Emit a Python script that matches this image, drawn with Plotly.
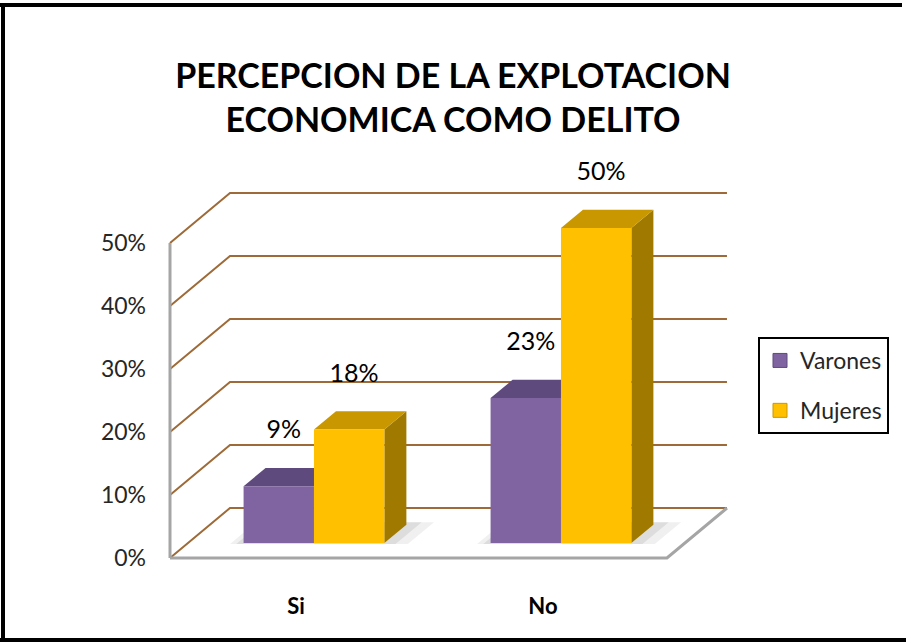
import plotly.graph_objects as go

# ---- chart data -------------------------------------------------------
categories = ["Si", "No"]
series_names = ["Varones", "Mujeres"]
varones = [9, 23]
mujeres = [18, 50]
y_ticks = [0, 10, 20, 30, 40, 50]
y_tick_labels = ["0%", "10%", "20%", "30%", "40%", "50%"]

# ---- oblique 3-D projection settings (data units) ---------------------
W, H = 906, 642
PX_PER_CAT = 247.0          # pixels per category step
PX_PER_PCT = 6.3            # pixels per percentage point
X_LEFT, X_RIGHT = -0.51, 1.502
DEPTH_X = 60 / PX_PER_CAT   # horizontal shift of the back wall
DEPTH_Y = 50 / PX_PER_PCT   # vertical shift of the back wall
BAR_W = 0.285
Z0, Z1 = 0.30, 0.667        # bar front / back depth (fraction of floor depth)
LABEL_GAP = 8.6

x_lo = X_LEFT - 170 / PX_PER_CAT
x_hi = x_lo + W / PX_PER_CAT
y_lo = -(H - 558) / PX_PER_PCT
y_hi = y_lo + H / PX_PER_PCT

GRID = "rgb(158,106,56)"
FLOOR = "rgb(165,165,165)"
COLORS = {
    "Varones": {"front": "#8064A2", "top": "#5F4A7D", "side": "#4E3D68"},
    "Mujeres": {"front": "#FFC000", "top": "#C99800", "side": "#A07A00"},
}
FONT = "Lato, Roboto, sans-serif"

fig = go.Figure()

# back wall gridlines with their slanted side-wall segments
gx, gy = [], []
for t in y_ticks:
    gx += [X_LEFT, X_LEFT + DEPTH_X, X_RIGHT + DEPTH_X, None]
    gy += [t, t + DEPTH_Y, t + DEPTH_Y, None]
fig.add_trace(go.Scatter(x=gx, y=gy, mode="lines", line=dict(color=GRID, width=2),
                         hoverinfo="skip", showlegend=False))

# floor edges and the front vertical axis line
fig.add_trace(go.Scatter(
    x=[X_LEFT, X_LEFT, None, X_LEFT, X_RIGHT, X_RIGHT + DEPTH_X],
    y=[y_ticks[-1], 0, None, 0, 0, DEPTH_Y],
    mode="lines", line=dict(color=FLOOR, width=3), hoverinfo="skip", showlegend=False))

# soft floor shadow beneath each pair of bars
for grow, alpha in [(0.05, 0.06), (0.025, 0.08)]:
    sx, sy = [], []
    for i in range(len(categories)):
        x0 = i - BAR_W - grow
        x1 = i + BAR_W + grow * 2
        za, zb = Z0 - 0.02, Z1 + 0.05
        sx += [x0 + za * DEPTH_X, x1 + za * DEPTH_X, x1 + zb * DEPTH_X,
               x0 + zb * DEPTH_X, x0 + za * DEPTH_X, None]
        sy += [za * DEPTH_Y, za * DEPTH_Y, zb * DEPTH_Y, zb * DEPTH_Y, za * DEPTH_Y, None]
    fig.add_trace(go.Scatter(x=sx, y=sy, mode="lines", fill="toself",
                             fillcolor=f"rgba(0,0,0,{alpha})", line=dict(width=0),
                             hoverinfo="skip", showlegend=False))


def faces(values, offset):
    """Polygons for the front, top and right faces of one series' bars."""
    front_x, front_y, top_x, top_y, side_x, side_y = [], [], [], [], [], []
    for i, v in enumerate(values):
        x0 = i + offset + Z0 * DEPTH_X
        x1 = x0 + BAR_W
        b = Z0 * DEPTH_Y
        dx = (Z1 - Z0) * DEPTH_X
        dy = (Z1 - Z0) * DEPTH_Y
        front_x += [x0, x1, x1, x0, x0, None]
        front_y += [b, b, b + v, b + v, b, None]
        top_x += [x0, x1, x1 + dx, x0 + dx, x0, None]
        top_y += [b + v, b + v, b + v + dy, b + v + dy, b + v, None]
        side_x += [x1, x1 + dx, x1 + dx, x1, x1, None]
        side_y += [b, b + dy, b + v + dy, b + v, b, None]
    return (front_x, front_y), (top_x, top_y), (side_x, side_y)


for name, values, offset in [("Varones", varones, -BAR_W), ("Mujeres", mujeres, 0.0)]:
    front, top, side = faces(values, offset)
    c = COLORS[name]
    for (px, py), col in [(side, c["side"]), (top, c["top"]), (front, c["front"])]:
        fig.add_trace(go.Scatter(x=px, y=py, mode="lines", fill="toself", fillcolor=col,
                                 line=dict(width=0), hoverinfo="skip", showlegend=False,
                                 legendgroup=name))
    # legend key
    fig.add_trace(go.Scatter(x=[None], y=[None], mode="markers", name=name,
                             legendgroup=name,
                             marker=dict(symbol="square", size=14, color=c["front"],
                                         line=dict(color=c["top"], width=1))))

# value labels
for values, offset in [(varones, -BAR_W), (mujeres, 0.0)]:
    lx = [i + offset + Z0 * DEPTH_X + BAR_W / 2 + 0.02 for i in range(len(values))]
    ly = [v + Z0 * DEPTH_Y + LABEL_GAP for v in values]
    fig.add_trace(go.Scatter(x=lx, y=ly, mode="text", text=[f"{v}%" for v in values],
                             textposition="middle center", cliponaxis=False,
                             textfont=dict(family=FONT, size=25, color="black"),
                             hoverinfo="skip", showlegend=False))

fig.update_layout(
    width=W, height=H, autosize=False,
    margin=dict(l=0, r=0, t=0, b=0),
    paper_bgcolor="white", plot_bgcolor="white",
    title=dict(text="<b>PERCEPCION DE LA EXPLOTACION<br>ECONOMICA COMO DELITO</b>",
               x=0.5, xanchor="center", y=1 - 88 / H, yanchor="middle",
               font=dict(family=FONT, size=34, color="black")),
    xaxis=dict(range=[x_lo, x_hi], showgrid=False, zeroline=False, showline=False,
               tickvals=list(range(len(categories))),
               ticktext=[f"<b>{c}</b>" for c in categories],
               ticks="", anchor="free", position=(H - 558) / H, automargin=False,
               ticklabelstandoff=33,
               tickfont=dict(family=FONT, size=22, color="black"), fixedrange=True),
    yaxis=dict(range=[y_lo, y_hi], showgrid=False, zeroline=False, showline=False,
               tickvals=y_ticks, ticktext=y_tick_labels, ticks="",
               anchor="free", position=170 / W, automargin=False,
               ticklabelstandoff=24,
               tickfont=dict(family=FONT, size=23, color="#262626"), fixedrange=True),
    legend=dict(x=758 / W, y=1 - 337 / H, xanchor="left", yanchor="top",
                bordercolor="black", borderwidth=2, bgcolor="white",
                font=dict(family=FONT, size=23, color="#262626"),
                tracegroupgap=17, traceorder="grouped", entrywidth=100),
    showlegend=True,
)

# outer frame
frame = dict(type="line", xref="paper", yref="paper", line=dict(color="black", width=4))
fig.add_shape(**frame, x0=0, x1=902 / W, y0=1 - 5 / H, y1=1 - 5 / H)
fig.add_shape(**frame, x0=3 / W, x1=3 / W, y0=0, y1=1 - 3 / H)
fig.add_shape(**frame, x0=0, x1=1, y0=2 / H, y1=2 / H)

fig.write_html("out.html")
